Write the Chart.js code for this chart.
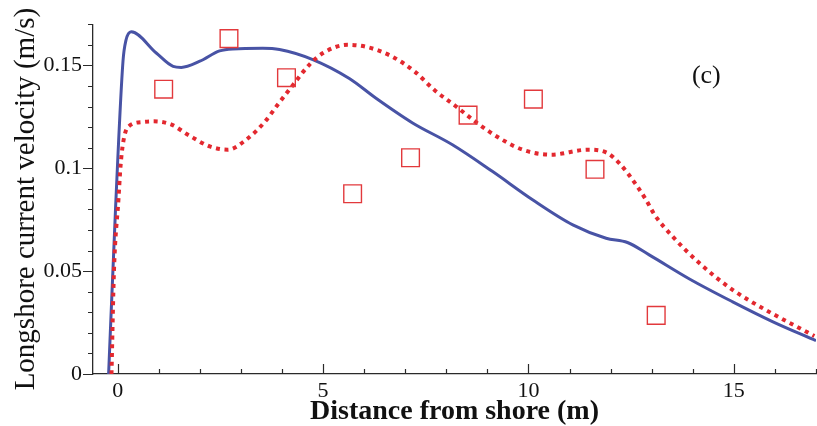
<!DOCTYPE html>
<html>
<head>
<meta charset="utf-8">
<script src="https://cdn.jsdelivr.net/npm/chart.js@4.4.1/dist/chart.umd.min.js"></script>
<style>
  body { margin: 0; background: #fff; }
  #chart { display: block; }
</style>
</head>
<body>
<canvas id="chart" width="817" height="426"></canvas>
<script>
// model result (solid blue)
const modelAX = [-0.22, -0.05, 0.13, 0.2, 0.33, 0.94, 1.35, 1.55, 2.0, 2.48, 2.8, 3.53, 3.94, 4.75, 5.64, 6.29, 7.18, 8.15, 9.12, 10.1, 11.08, 11.89, 12.41, 12.94, 13.92, 14.96, 15.94, 17.0];
const modelAY = [0, 0.081, 0.152, 0.162, 0.1663, 0.156, 0.1495, 0.149, 0.152, 0.157, 0.158, 0.1583, 0.1577, 0.1528, 0.1436, 0.134, 0.122, 0.1114, 0.0985, 0.0847, 0.0725, 0.066, 0.0639, 0.0579, 0.0462, 0.0352, 0.0255, 0.0162];

// model result (dotted red)
const modelBX = [-0.15, -0.09, 0.02, 0.07, 0.13, 0.25, 0.62, 0.88, 1.31, 1.71, 2.24, 2.68, 3.13, 3.58, 3.9, 4.27, 4.67, 5.0, 5.6, 6.05, 6.66, 7.23, 7.71, 8.24, 8.77, 9.33, 9.9, 10.55, 11.44, 11.89, 12.21, 12.62, 12.86, 13.07, 13.51, 14.16, 14.97, 15.78, 16.96];
const modelBY = [0, 0.05, 0.085, 0.101, 0.112, 0.12, 0.1225, 0.1228, 0.1212, 0.1163, 0.1106, 0.109, 0.1139, 0.1225, 0.131, 0.1405, 0.1504, 0.156, 0.16, 0.159, 0.1545, 0.147, 0.138, 0.13, 0.1217, 0.1142, 0.1087, 0.1066, 0.109, 0.1077, 0.1025, 0.092, 0.0847, 0.0774, 0.0668, 0.0539, 0.0409, 0.0311, 0.0185];

// measurements (squares)
const obsX = [1.12, 2.71, 4.11, 5.72, 7.13, 8.53, 10.12, 11.62, 13.11];
const obsY = [0.1384, 0.163, 0.144, 0.0876, 0.1051, 0.1258, 0.1336, 0.0995, 0.0285];

const xTicks = [0, 5, 10, 15];
const xTickLabels = ['0', '5', '10', '15'];
const yTicks = [0, 0.05, 0.1, 0.15];
const yTickLabels = ['0', '0.05', '0.1', '0.15'];

const panelLabel = '(c)';
const panelLabelX = 14.33;
const panelLabelY = 0.1445;

const serif = '"Liberation Serif", "Times New Roman", serif';
const axisColor = '#2a2a2a';

function toPoints(xs, ys) {
    return xs.map((x, i) => ({ x: x, y: ys[i] }));
}

// major/minor tick marks (x inward, y outward), x tick labels and the panel label
const tickMarks = {
    id: 'tickMarks',
    afterDraw(chart) {
        const ctx = chart.ctx;
        const xs = chart.scales.x;
        const ys = chart.scales.y;
        const area = chart.chartArea;
        ctx.save();
        ctx.strokeStyle = axisColor;
        ctx.lineWidth = 1.2;
        ctx.beginPath();
        for (let i = 0; i <= 17; i++) {
            const px = Math.round(xs.getPixelForValue(i)) + 0.5;
            const len = (i % 5 === 0) ? 10 : 5;
            ctx.moveTo(px, area.bottom);
            ctx.lineTo(px, area.bottom - len);
        }
        for (let i = 0; i <= 17; i++) {
            const py = Math.round(ys.getPixelForValue(i * 0.01)) + 0.5;
            const len = (i % 5 === 0) ? 10 : 5;
            ctx.moveTo(area.left, py);
            ctx.lineTo(area.left - len, py);
        }
        ctx.stroke();

        ctx.fillStyle = '#111';
        ctx.font = '22px ' + serif;
        ctx.textAlign = 'center';
        ctx.textBaseline = 'middle';
        xTicks.forEach((v, i) => {
            ctx.fillText(xTickLabels[i], xs.getPixelForValue(v), area.bottom + 17);
        });

        ctx.font = '26px ' + serif;
        ctx.fillText(panelLabel, xs.getPixelForValue(panelLabelX), ys.getPixelForValue(panelLabelY));
        ctx.restore();
    }
};

new Chart(document.getElementById('chart'), {
    type: 'scatter',
    data: {
        datasets: [
            {
                label: 'Measured',
                data: toPoints(obsX, obsY),
                pointStyle: 'rect',
                pointRadius: 12.5,
                pointHoverRadius: 12.5,
                pointBorderWidth: 1.4,
                pointBorderColor: '#e2393c',
                pointBackgroundColor: 'rgba(0,0,0,0)',
                showLine: false
            },
            {
                label: 'Model B',
                data: toPoints(modelBX, modelBY),
                showLine: true,
                borderColor: '#e3282f',
                borderWidth: 4,
                borderDash: [4, 4.6],
                borderCapStyle: 'butt',
                cubicInterpolationMode: 'monotone',
                pointRadius: 0,
                fill: false
            },
            {
                label: 'Model A',
                data: toPoints(modelAX, modelAY),
                showLine: true,
                borderColor: '#4853a5',
                borderWidth: 3,
                cubicInterpolationMode: 'monotone',
                pointRadius: 0,
                fill: false
            }
        ]
    },
    options: {
        responsive: false,
        animation: false,
        devicePixelRatio: 1,
        layout: { autoPadding: false, padding: { top: 24, right: 1, left: 0, bottom: 0 } },
        plugins: {
            legend: { display: false },
            tooltip: { enabled: false }
        },
        scales: {
            x: {
                type: 'linear',
                min: -0.6,
                max: 17,
                afterFit: function(scale) { scale.height = 52; },
                grid: { display: false, drawTicks: false },
                border: { display: true, color: axisColor, width: 1.3 },
                ticks: { display: false },
                title: {
                    display: true,
                    text: 'Distance from shore (m)',
                    color: '#111',
                    font: { family: serif, size: 28, weight: 'bold', lineHeight: 1 },
                    padding: { top: 0, bottom: 0 }
                }
            },
            y: {
                type: 'linear',
                min: 0,
                max: 0.17,
                afterBuildTicks: function(scale) {
                    scale.ticks = yTicks.map(v => ({ value: v }));
                },
                afterFit: function(scale) { scale.width = 93; },
                grid: { display: false, drawTicks: false },
                border: { display: true, color: axisColor, width: 1.3 },
                ticks: {
                    padding: 11,
                    color: '#111',
                    font: { family: serif, size: 22 },
                    callback: function(value) {
                        const i = yTicks.indexOf(value);
                        return i >= 0 ? yTickLabels[i] : '';
                    }
                },
                title: {
                    display: true,
                    text: 'Longshore current velocity (m/s)',
                    color: '#111',
                    font: { family: serif, size: 29 },
                    padding: { top: 9, bottom: 0 }
                }
            }
        }
    },
    plugins: [tickMarks]
});
</script>
</body>
</html>
